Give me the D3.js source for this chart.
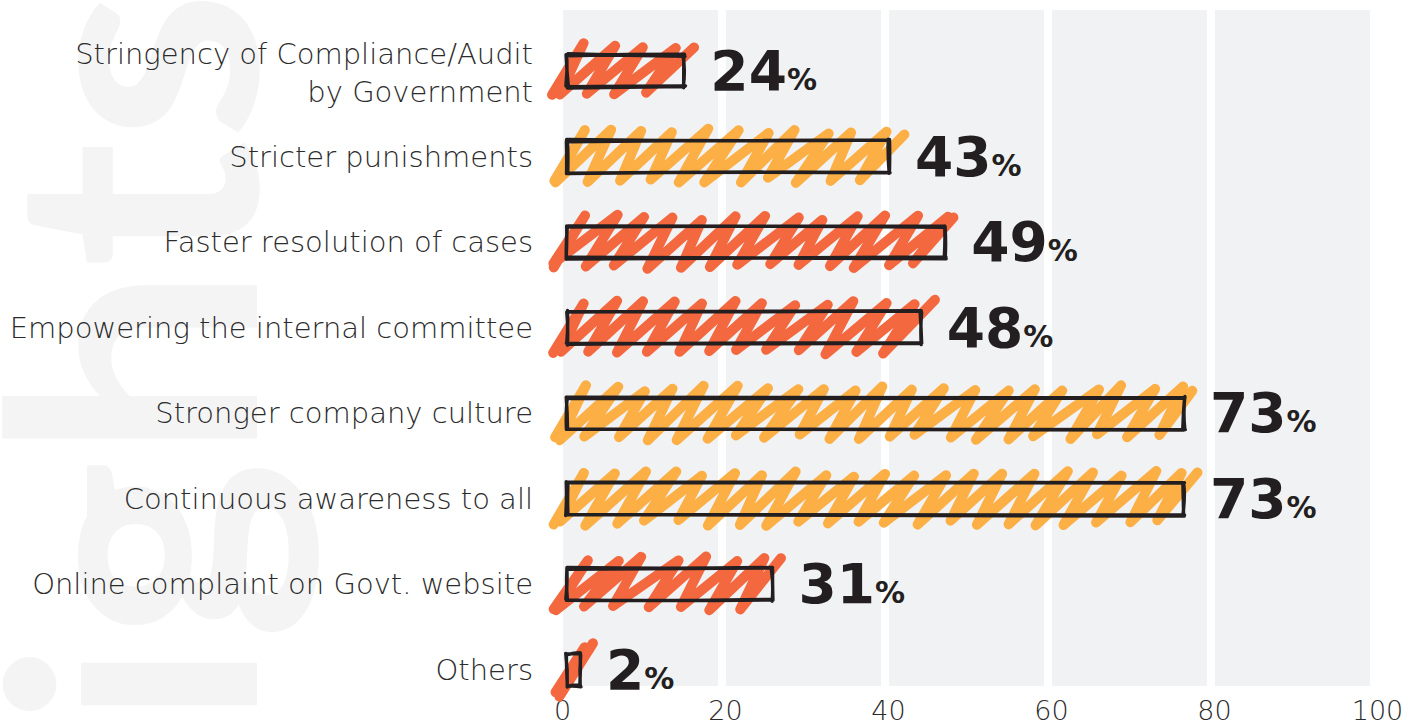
<!DOCTYPE html>
<html>
<head>
<meta charset="utf-8">
<script src="https://cdn.jsdelivr.net/npm/d3@7"></script>
<style>
  html, body { margin: 0; padding: 0; background: #fff; }
  svg { display: block; }
</style>
</head>
<body>
<div class="chart"></div>
<script>
// data
var categories = [
  'Stringency of Compliance/Audit|by Government',
  'Stricter punishments',
  'Faster resolution of cases',
  'Empowering the internal committee',
  'Stronger company culture',
  'Continuous awareness to all',
  'Online complaint on Govt. website',
  'Others'
];
// bar lengths as drawn against the axis
var barValues = [14.4, 39.5, 46.4, 43.4, 75.7, 75.7, 25.2, 1.6];
// printed percentages
var labelValues = [24, 43, 49, 48, 73, 73, 31, 2];
var xTicks = [0, 20, 40, 60, 80, 100];
var barColors = ['#f4683f', '#fbaf45', '#f4683f', '#f4683f', '#fbaf45', '#fbaf45', '#f4683f', '#f4683f'];

var width = 1412, height = 728;

var svg = d3.select('.chart')
  .append('svg')
    .attr('width', width)
    .attr('height', height);

// watermark
svg.append('text')
  .attr('transform', 'translate(257,-10) rotate(-90)')
  .attr('text-anchor', 'end')
  .style('font-family', 'Lato')
  .style('font-weight', 700)
  .style('font-size', '343px')
  .style('fill', '#f4f4f4')
  .text('insights');

var xScale = d3.scaleLinear()
  .domain([0, 100])
  .range([567, 1382]);

var yScale = d3.scalePoint()
  .domain(categories)
  .range([71, 670]);

// grey columns between gridlines
var bands = d3.range(0, 100, 20);
svg.append('g')
  .selectAll('rect')
  .data(bands)
  .enter()
  .append('rect')
    .attr('x', d => xScale(d) - 4)
    .attr('y', 10)
    .attr('width', d => xScale(d + 20) - xScale(d) - 8)
    .attr('height', 676)
    .attr('fill', '#f1f2f4');

// axis
var xAxis = svg.append('g')
  .attr('transform', 'translate(-5, 701)')
  .call(d3.axisBottom(xScale).tickValues(xTicks).tickSize(0).tickPadding(0));
xAxis.select('.domain').remove();
xAxis.selectAll('text')
  .attr('dy', '0.71em')
  .style('font-family', 'DejaVu Sans')
  .style('font-weight', 200)
  .style('font-size', '27px')
  .style('fill', '#2b2b2b');

// category labels
var labels = svg.append('g')
  .selectAll('text')
  .data(categories)
  .enter()
  .append('text')
    .attr('x', 533)
    .attr('y', d => yScale(d) + (d.indexOf('|') > -1 ? -7 : 10))
    .attr('text-anchor', 'end')
    .style('font-family', 'DejaVu Sans')
    .style('font-weight', 200)
    .style('font-size', '29px')
    .style('fill', '#2b2b2b');

labels.selectAll('tspan')
  .data(d => d.split('|'))
  .enter()
  .append('tspan')
    .attr('x', 533)
    .attr('dy', (d, i) => i ? 38 : 0)
    .text(d => d);

// hand drawn look, deterministic wobble
var seed = 11;
function rand() { seed = (seed * 16807) % 2147483647; return (seed - 1) / 2147483646; }
function jit(a) { return (rand() - 0.5) * 2 * a; }

function roughLine(p, xa, ya, xb, yb, a) {
  p.moveTo(xa + jit(a), ya + jit(a));
  p.quadraticCurveTo((xa + xb) / 2 + jit(a), (ya + yb) / 2 + jit(a), xb + jit(a), yb + jit(a));
}

function outlinePath(x0, y0, x1, y1) {
  var p = d3.path();
  for (var k = 0; k < 2; k++) {
    roughLine(p, x0, y0, x1, y0, 1.4);
    roughLine(p, x1, y0, x1, y1, 1.4);
    roughLine(p, x1, y1, x0, y1, 1.4);
    roughLine(p, x0, y1, x0, y0, 1.4);
  }
  return p.toString();
}

// zigzag scribble: both strokes lean like "/"
function zigzagPath(x0, y0, x1, y1) {
  var p = d3.path();
  var s = 30, up = 58;
  var top = y0 - 9, bot = y1 + 8;
  var lo = x0 - 13, hi = x1 + 12;
  var bx = x0 - 40;
  p.moveTo(Math.max(bx, lo) + jit(2), bot + jit(2));
  while (true) {
    p.lineTo(Math.min(bx + up, hi) + jit(4), top + jit(3));
    bx += s;
    if (bx > x1 - 12) break;
    p.lineTo(Math.max(bx, lo) + jit(4), bot + jit(3));
  }
  return p.toString();
}

var barH = 32;
var bars = svg.append('g')
  .selectAll('g')
  .data(categories)
  .enter()
  .append('g');

bars.append('path')
  .attr('d', (d, i) => zigzagPath(xScale(0), yScale(d) - barH / 2, xScale(barValues[i]), yScale(d) + barH / 2))
  .attr('fill', 'none')
  .attr('stroke', (d, i) => barColors[i])
  .attr('stroke-width', 10)
  .attr('stroke-linecap', 'round')
  .attr('stroke-linejoin', 'round');

bars.append('path')
  .attr('d', (d, i) => outlinePath(xScale(0), yScale(d) - barH / 2, xScale(barValues[i]), yScale(d) + barH / 2))
  .attr('fill', 'none')
  .attr('stroke', '#231f20')
  .attr('stroke-width', 3.4)
  .attr('stroke-linecap', 'round')
  .attr('stroke-linejoin', 'round');

// value labels
var vals = bars.append('text')
  .attr('x', (d, i) => xScale(barValues[i]) + 26)
  .attr('y', d => yScale(d) + 19)
  .style('font-family', 'DejaVu Sans')
  .style('font-weight', 700)
  .style('fill', '#231f20');

vals.append('tspan')
  .style('font-size', '55px')
  .text((d, i) => labelValues[i]);
vals.append('tspan')
  .style('font-size', '30px')
  .text('%');
</script>
</body>
</html>
